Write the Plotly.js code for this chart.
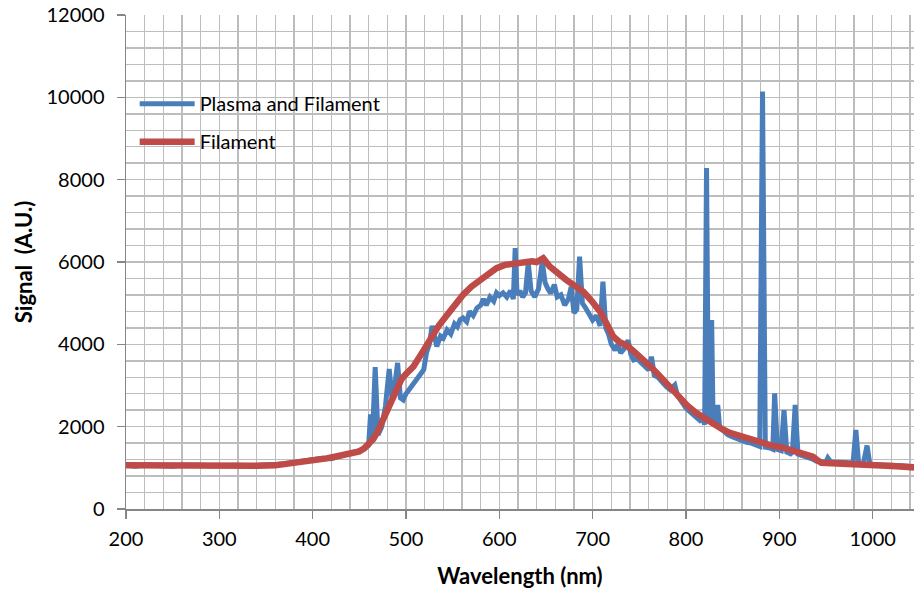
<!DOCTYPE html>
<html>
<head>
<meta charset="utf-8">
<script src="https://cdn.plot.ly/plotly-3.0.1.min.js"></script>
<style>html,body{margin:0;padding:0;background:#fff;}#chart{width:914px;height:592px;}</style>
</head>
<body>
<div id="chart"></div>
<script>
// Plasma and Filament (blue) — wavelength (nm) and signal (A.U.)
const plasmaWl = [200,210,220,230,240,250,260,270,280,290,300,310,320,330,340,350,360,370,380,390,400,410,420,430,440,450,455,460,462,464,467,470,474,478,482,485,488,491,494,497,500,505,510,515,519,522,525,528,531,533,537,540,544,548,552,555,558,561,565,568,572,576,580,583,586,590,594,597,600,604,608,612,615,617,619,622,625,628,631,634,638,642,646,649,652,655,659,662,666,670,674,677,680,683,686,689,692,696,700,704,708,711,714,717,720,724,727,730,734,738,741,744,748,752,756,760,763,766,770,775,779,783,788,791,795,800,805,810,815,818,820,822,824,826,827.5,829,831,834,836,840,845,850,855,860,865,870,875,879,882,885,890,893,895,898,902,905,908,912,914,917,920,925,930,935,940,945,950,952,955,960,965,970,975,979,982,985,990,994,997,1000,1010,1020,1030,1040,1045];
const plasmaSig = [1060,1040,1070,1050,1060,1040,1070,1050,1060,1050,1060,1040,1060,1050,1070,1060,1080,1100,1130,1160,1200,1230,1220,1290,1330,1400,1450,1550,2300,1700,3450,1800,2000,2500,3400,2700,3000,3550,2700,2650,2800,2950,3100,3250,3380,3800,4000,4450,4100,3950,4200,4150,4350,4250,4500,4430,4600,4640,4550,4800,4700,4880,4950,5100,4950,5150,5050,5250,5180,5250,5150,5300,5100,6340,5200,5300,5150,5250,5975,5300,5150,5350,6010,5500,5350,5240,5450,5150,5200,4950,5100,5400,4760,4850,6130,5000,4900,4750,4590,4700,4450,5520,4400,4250,4000,3860,4000,3790,3900,4100,3750,3620,3650,3550,3450,3380,3700,3250,3200,3050,2970,2900,3010,2750,2600,2450,2350,2250,2150,2200,2050,8280,2300,2100,4590,2200,2050,2530,2000,1900,1800,1750,1700,1650,1620,1600,1560,1520,10140,1500,1480,1450,2810,1450,1420,2400,1380,1340,1380,2530,1330,1300,1250,1220,1160,1150,1140,1240,1150,1140,1130,1120,1110,1120,1920,1110,1100,1540,1090,1080,1070,1060,1050,1040,1030];

// Filament (red)
const filamentWl = [200,220,240,260,280,300,320,340,360,380,400,415,430,440,450,455,460,465,470,475,480,485,490,495,500,508,516,525,535,544,552,561,570,579,588,597,606,615,625,635,640,647,654,663,672,681,690,699,708,715,722,729,736,743,751,760,769,778,786,794,801,810,820,829,838,847,856,865,874,883,892,901,910,918,930,936,940,945,950,960,972,985,1000,1015,1030,1045];
const filamentSig = [1060,1055,1050,1045,1050,1045,1040,1050,1060,1110,1170,1230,1300,1340,1400,1470,1560,1700,1900,2150,2450,2700,2950,3150,3280,3460,3750,4100,4450,4710,4950,5200,5400,5560,5720,5850,5930,5970,6000,6020,6000,6090,5890,5700,5560,5420,5280,5050,4790,4500,4190,4050,3980,3850,3700,3500,3300,3080,2890,2650,2520,2350,2200,2080,1950,1850,1780,1720,1650,1580,1540,1510,1450,1400,1310,1270,1200,1120,1115,1110,1100,1090,1070,1050,1030,1010];

const seriesNames = ['Plasma and Filament', 'Filament'];
const xTitle = 'Wavelength (nm)';
const yTitle = 'Signal\u00a0 (A.U.)';

const FONT = 'Lato, "Open Sans", sans-serif';
const gridCol = '#bdbdbd';
const axisCol = '#868686';

const traces = [
  {x: plasmaWl, y: plasmaSig, name: seriesNames[0], type: 'scatter', mode: 'lines',
   line: {color: '#4a7ebb', width: 5}, legendgroup: 'a'},
  {x: filamentWl, y: filamentSig, name: seriesNames[1], type: 'scatter', mode: 'lines',
   line: {color: '#be4b48', width: 6.5}, legendgroup: 'b'}
];

const layout = {
  width: 914, height: 592,
  margin: {l: 126, r: 0, t: 15, b: 83},
  paper_bgcolor: '#ffffff', plot_bgcolor: '#ffffff',
  font: {family: FONT, size: 20, color: '#000'},
  showlegend: true,
  legend: {x: 0.011, y: 0.86, xanchor: 'left', yanchor: 'top', bgcolor: 'rgba(0,0,0,0)',
           font: {family: FONT, size: 20, color: '#000'}, itemwidth: 55,
           traceorder: 'grouped', tracegroupgap: 9},
  xaxis: {
    range: [200, 1044.3], dtick: 100, tick0: 200,
    showgrid: true, gridcolor: gridCol, gridwidth: 1.5,
    minor: {dtick: 20, showgrid: true, gridcolor: gridCol, gridwidth: 1.5},
    showline: true, linecolor: axisCol, linewidth: 1.5,
    ticks: 'outside', ticklen: 8, tickcolor: axisCol, tickwidth: 1.5,
    zeroline: false, tickfont: {family: FONT, size: 20, color: '#000'},
    ticklabelstandoff: 3,
    title: {text: xTitle, font: {family: FONT, size: 22, color: '#000', weight: 'bold'}, standoff: 20}
  },
  yaxis: {
    range: [0, 12000], dtick: 2000, tickformat: 'd',
    showgrid: true, gridcolor: gridCol, gridwidth: 1.5,
    minor: {dtick: 400, showgrid: true, gridcolor: gridCol, gridwidth: 1.5},
    showline: true, linecolor: axisCol, linewidth: 1.5,
    ticks: 'outside', ticklen: 8, tickcolor: axisCol, tickwidth: 1.5,
    zeroline: false, tickfont: {family: FONT, size: 20, color: '#000'},
    ticklabelstandoff: 8,
    title: {text: yTitle, font: {family: FONT, size: 22, color: '#000', weight: 'bold'}, standoff: 8}
  }
};

Plotly.newPlot('chart', traces, layout, {staticPlot: true, displayModeBar: false});
</script>
</body>
</html>
